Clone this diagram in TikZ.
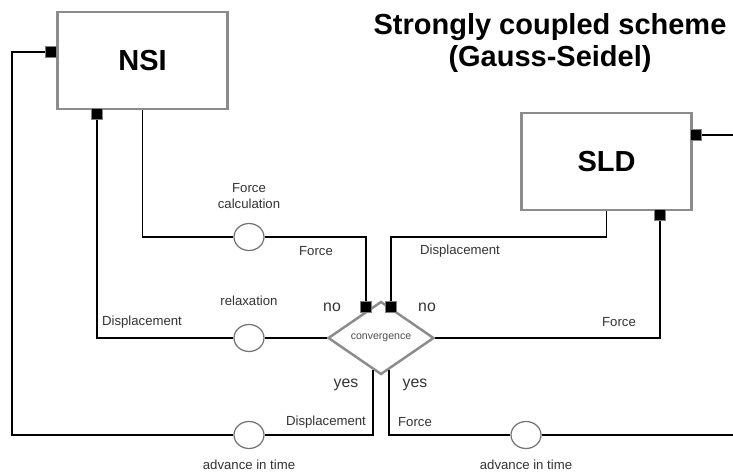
\documentclass[tikz,border=0pt]{standalone}
\usepackage{fontspec}
\setmainfont{Liberation Sans}
\usepackage{tikz}
\usetikzlibrary{positioning,shapes.geometric}

\begin{document}
\begin{tikzpicture}[x=0.02cm,y=-0.02cm,
		block/.style={minimum height=1.94cm,minimum width=3.4cm,draw=black!45,line width=1.3pt,fill=white,font=\bfseries\fontsize{16.5}{18}\selectfont},
		port/.style={minimum size=5.8pt,inner sep=0pt,fill=black,draw=black!50,line width=0.5pt},
		valve/.style={ellipse,minimum width=0.6cm,minimum height=0.54cm,draw=black!55,line width=0.7pt,fill=white},
		lbl/.style={text=black!80,font=\fontsize{7.5}{9}\selectfont,inner sep=0pt,align=center},
		answer/.style={text=black!80,font=\fontsize{9}{11}\selectfont,inner sep=0pt},
		link/.style={line width=0.75pt}]
		\useasboundingbox (0,0) rectangle (733,475);
		
		\node[font=\bfseries\fontsize{16.5}{18.7}\selectfont,align=center] (title) at (550,43) {Strongly coupled scheme\\(Gauss-Seidel)};
		
		\node[block] (nsi) at (142.5,60.5) {NSI};
		\node[block] (sld) at (606.5,161.5) {SLD};
		
		\node[diamond,minimum width=2.12cm,minimum height=1.46cm,inner sep=0pt,draw=black!45,line width=1.4pt,fill=white,font=\fontsize{6}{7}\selectfont,text=black!70] (conv) at (381,338) {convergence};
		
		% ports
		\node[port] (pnsil) at (51,52) {};
		\node[port] (pnsib) at (97,114) {};
		\node[port] (psldr) at (696,135) {};
		\node[port] (psldb) at (660,215) {};
		\node[port] (pno1) at (366,307) {};
		\node[port] (pno2) at (391,307) {};
		
		% circles
		\node[valve] (calc) at (249,237) {};
		\node[valve] (relax) at (249,338) {};
		\node[valve] (adv1) at (249,435) {};
		\node[valve] (adv2) at (526,435) {};
		
		\coordinate (lcorner) at (12,435);
		\coordinate (rend) at (733,435);
		\coordinate (rtop) at (733,135);
		
		\draw[link] (nsi.south) |- (calc.west);
		\draw[link] (calc.east) -| (pno1.north);
		\draw[link] (sld.south) |- (pno2 |- calc) -- (pno2.north);
		
		\draw[link] (conv.west) -- (relax.east);
		\draw[link] (relax.west) -| (pnsib.south);
		\draw[link] (conv.east) -| (psldb.south);
		
		\draw[link] (conv.-104) |- (adv1.east);
		\draw[link] (adv1.west) -- (lcorner) |- (pnsil.west);
		\draw[link] (conv.-76) |- (adv2.west);
		\draw[link] (adv2.east) -- (rend);
		\draw[link] (psldr.east) -- (rtop);
		
		% labels
		\node[lbl,above=0.82cm of calc.center,anchor=center] (lcalc) {Force\\calculation};
		\node[lbl] (lf1) at (316,251) {Force};
		\node[lbl] (ld1) at (460,251) {Displacement};
		\node[lbl] (lrel) at (249,301) {relaxation};
		\node[lbl] (ld2) at (142,322) {Displacement};
		\node[lbl] (lf2) at (619,322) {Force};
		\node[answer] (no1) at (332,307) {no};
		\node[answer] (no2) at (427,307) {no};
		\node[answer] (yes1) at (346,385) {yes};
		\node[answer] (yes2) at (415,385) {yes};
		\node[lbl] (ld3) at (326,422) {Displacement};
		\node[lbl] (lf3) at (415,422) {Force};
		\node[lbl] (ladv1) at (249,465) {advance in time};
		\node[lbl] (ladv2) at (526,465) {advance in time};
	\end{tikzpicture}
\end{document}
